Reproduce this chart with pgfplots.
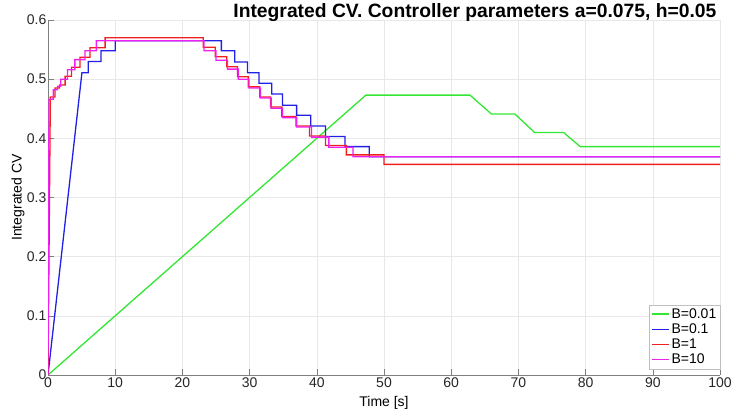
\documentclass[border=0pt]{standalone}
\usepackage{fontspec}
\setmainfont{Liberation Sans}
\usepackage{pgfplots}
\pgfplotsset{compat=1.18}
\definecolor{cgreen}{RGB}{51,230,51}
\definecolor{cblue}{RGB}{32,32,230}
\definecolor{cred}{RGB}{240,32,32}
\definecolor{cmag}{RGB}{240,32,240}
\definecolor{gridc}{RGB}{232,232,232}
\definecolor{axc}{RGB}{128,128,128}
\pgfplotsset{
  pG/.style={color=cgreen, line width=1.3pt},
  pB/.style={color=cblue, line width=1.3pt},
  pR/.style={color=cred, line width=1.3pt},
  pM/.style={color=cmag, line width=1.3pt},
}
\begin{document}
\begin{tikzpicture}
\useasboundingbox (0,0) rectangle (734pt,414pt);
\begin{axis}[
  at={(48pt,39pt)}, anchor=south west,
  scale only axis, width=672pt, height=355pt,
  xmin=0, xmax=100, ymin=0, ymax=0.6,
  xtick={0,10,...,100}, ytick={0,0.1,...,0.6},
  axis x line=bottom, axis y line=left,
  axis line style={-, axc, line width=0.8pt},
  tick align=inside, major tick length=6pt,
  tick style={axc, line width=0.6pt},
  grid=major, major grid style={gridc, line width=0.5pt},
  /pgf/number format/assume math mode=true,
  tick label style={font=\fontsize{14}{14}\selectfont, text=black!85},
  yticklabel style={inner sep=1.5pt},
  xticklabel style={inner sep=2.5pt},
  title={Integrated CV. Controller parameters a=0.075, h=0.05},
  every axis title/.style={at={(axis description cs:1,1)}, anchor=base east, yshift=2pt, font=\bfseries\fontsize{19.3}{19.3}\selectfont},
  xlabel={Time [s]}, ylabel={Integrated CV},
  every axis x label/.style={at={(axis description cs:0.5,0)}, anchor=center, yshift=-28pt, font=\fontsize{14}{14}\selectfont},
  every axis y label/.style={at={(axis description cs:-0.0446,0.5)}, rotate=90, anchor=center, font=\fontsize{14}{14}\selectfont},
  legend cell align=left,
  legend style={at={(axis description cs:1,0)}, anchor=south east, yshift=6pt,
    font=\fontsize{14}{15}\selectfont, draw=gray!50, fill=white, inner sep=1.5pt},
]
\addplot[pG] coordinates {(0,0) (47.3,0.473) (62.8,0.473) (66.0,0.441) (69.5,0.441) (72.4,0.410) (76.7,0.410) (79.2,0.386) (100,0.386)};
\addplot[pB] coordinates {(0,0) (5.05,0.511) (6.0,0.511) (6.0,0.530) (7.9,0.530) (7.9,0.548) (10.0,0.548) (10.0,0.565) (25.8,0.565) (25.8,0.548) (27.8,0.548) (27.8,0.529) (29.7,0.529) (29.7,0.511) (31.4,0.511) (31.4,0.493) (33.3,0.493) (33.3,0.475) (34.9,0.475) (34.9,0.456) (37.0,0.456) (37.0,0.439) (39.1,0.439) (39.1,0.421) (41.3,0.421) (41.3,0.403) (44.2,0.403) (44.2,0.386) (47.8,0.386) (47.8,0.369) (100,0.369)};
\addplot[pR] coordinates {(0,0) (0.35,0.47) (1.05,0.47) (1.05,0.485) (1.7,0.485) (1.7,0.49) (2.55,0.49) (2.55,0.505) (3.5,0.505) (3.5,0.52) (4.75,0.52) (4.75,0.537) (6.25,0.537) (6.25,0.553) (8.5,0.553) (8.5,0.57) (23.1,0.57) (23.1,0.554) (24.9,0.554) (24.9,0.538) (26.6,0.538) (26.6,0.521) (28.2,0.521) (28.2,0.504) (29.8,0.504) (29.8,0.487) (31.5,0.487) (31.5,0.470) (33.1,0.470) (33.1,0.453) (34.8,0.453) (34.8,0.437) (36.9,0.437) (36.9,0.421) (38.9,0.421) (38.9,0.404) (41.3,0.404) (41.3,0.388) (44.4,0.388) (44.4,0.372) (50.0,0.372) (50.0,0.356) (100,0.356)};
\addplot[pM] coordinates {(0,0) (0.15,0.466) (0.8,0.466) (0.8,0.482) (1.4,0.482) (1.4,0.488) (1.9,0.488) (1.9,0.50) (2.9,0.50) (2.9,0.516) (4.0,0.516) (4.0,0.533) (5.5,0.533) (5.5,0.548) (7.2,0.548) (7.2,0.565) (23.2,0.565) (23.2,0.548) (25.0,0.548) (25.0,0.532) (26.7,0.532) (26.7,0.517) (28.3,0.517) (28.3,0.50) (29.9,0.50) (29.9,0.485) (31.6,0.485) (31.6,0.468) (33.2,0.468) (33.2,0.451) (34.9,0.451) (34.9,0.435) (37.0,0.435) (37.0,0.419) (39.2,0.419) (39.2,0.402) (41.8,0.402) (41.8,0.385) (45.4,0.385) (45.4,0.369) (100,0.369)};
\legend{B=0.01,B=0.1,B=1,B=10}
\end{axis}
\end{tikzpicture}
\end{document}
